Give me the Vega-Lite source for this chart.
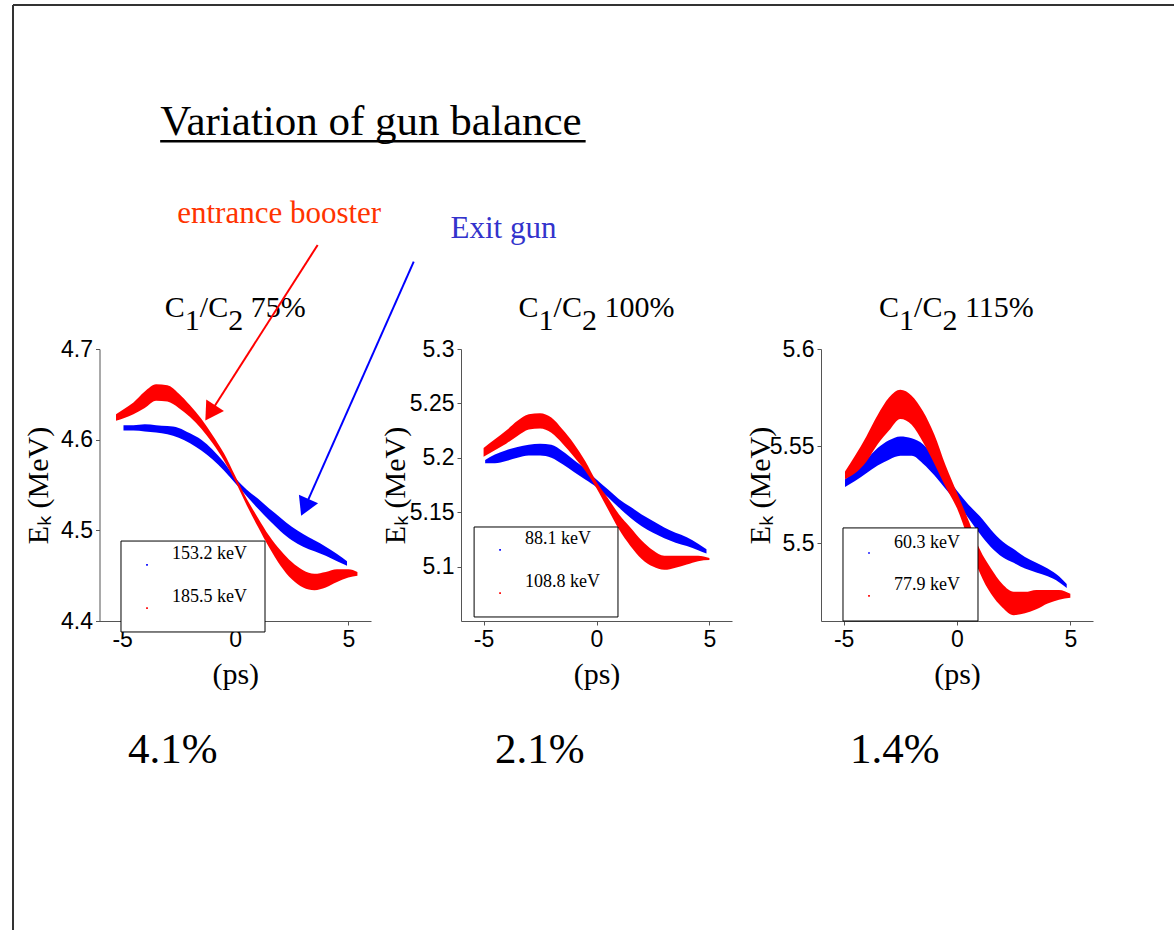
{
  "$schema": "https://vega.github.io/schema/vega-lite/v6.json",
  "width": 1174,
  "height": 930,
  "autosize": {"type": "none"},
  "padding": 0,
  "background": "white",
  "config": {
    "view": {"stroke": null},
    "axis": {"grid": false},
    "text": {"font": "Liberation Serif", "color": "black"}
  },
  "datasets": {
    "p1red": [
      {"t": -5.27, "e": 4.621, "e2": 4.628}, {"t": -4.9, "e": 4.624, "e2": 4.634}, {"t": -4.5, "e": 4.628, "e2": 4.641},
      {"t": -4.0, "e": 4.635, "e2": 4.653}, {"t": -3.5, "e": 4.643, "e2": 4.661}, {"t": -3.0, "e": 4.642, "e2": 4.66},
      {"t": -2.5, "e": 4.635, "e2": 4.651}, {"t": -2.0, "e": 4.625, "e2": 4.638}, {"t": -1.5, "e": 4.612, "e2": 4.623},
      {"t": -1.0, "e": 4.596, "e2": 4.605}, {"t": -0.5, "e": 4.577, "e2": 4.585}, {"t": 0, "e": 4.554, "e2": 4.56},
      {"t": 0.5, "e": 4.528, "e2": 4.535}, {"t": 1.0, "e": 4.504, "e2": 4.514}, {"t": 1.5, "e": 4.481, "e2": 4.494},
      {"t": 2.0, "e": 4.461, "e2": 4.478}, {"t": 2.5, "e": 4.446, "e2": 4.465}, {"t": 3.0, "e": 4.437, "e2": 4.456},
      {"t": 3.5, "e": 4.434, "e2": 4.452}, {"t": 4.0, "e": 4.437, "e2": 4.454}, {"t": 4.5, "e": 4.443, "e2": 4.457},
      {"t": 5.0, "e": 4.448, "e2": 4.457}, {"t": 5.4, "e": 4.45, "e2": 4.454}
    ],
    "p1blue": [
      {"t": -4.94, "e": 4.61, "e2": 4.616}, {"t": -4.5, "e": 4.61, "e2": 4.616}, {"t": -4.0, "e": 4.609, "e2": 4.617},
      {"t": -3.5, "e": 4.608, "e2": 4.616}, {"t": -3.0, "e": 4.606, "e2": 4.615}, {"t": -2.5, "e": 4.602, "e2": 4.613},
      {"t": -2.0, "e": 4.596, "e2": 4.607}, {"t": -1.5, "e": 4.588, "e2": 4.6}, {"t": -1.0, "e": 4.578, "e2": 4.589},
      {"t": -0.5, "e": 4.566, "e2": 4.575}, {"t": 0, "e": 4.552, "e2": 4.558}, {"t": 0.5, "e": 4.538, "e2": 4.545},
      {"t": 1.0, "e": 4.524, "e2": 4.535}, {"t": 1.5, "e": 4.511, "e2": 4.524}, {"t": 2.0, "e": 4.499, "e2": 4.514},
      {"t": 2.5, "e": 4.489, "e2": 4.504}, {"t": 3.0, "e": 4.482, "e2": 4.496}, {"t": 3.5, "e": 4.477, "e2": 4.489},
      {"t": 4.0, "e": 4.472, "e2": 4.482}, {"t": 4.5, "e": 4.466, "e2": 4.474}, {"t": 4.94, "e": 4.461, "e2": 4.466}
    ],
    "p2red": [
      {"t": -5.0, "e": 5.201, "e2": 5.209}, {"t": -4.5, "e": 5.207, "e2": 5.217}, {"t": -4.0, "e": 5.213, "e2": 5.225},
      {"t": -3.5, "e": 5.22, "e2": 5.234}, {"t": -3.0, "e": 5.226, "e2": 5.24}, {"t": -2.5, "e": 5.227, "e2": 5.241},
      {"t": -2.0, "e": 5.223, "e2": 5.237}, {"t": -1.5, "e": 5.213, "e2": 5.226}, {"t": -1.0, "e": 5.201, "e2": 5.213},
      {"t": -0.5, "e": 5.188, "e2": 5.197}, {"t": 0, "e": 5.172, "e2": 5.178}, {"t": 0.5, "e": 5.153, "e2": 5.163},
      {"t": 1.0, "e": 5.134, "e2": 5.148}, {"t": 1.5, "e": 5.119, "e2": 5.136}, {"t": 2.0, "e": 5.107, "e2": 5.124},
      {"t": 2.5, "e": 5.1, "e2": 5.115}, {"t": 3.0, "e": 5.097, "e2": 5.11}, {"t": 3.5, "e": 5.099, "e2": 5.11},
      {"t": 4.0, "e": 5.102, "e2": 5.11}, {"t": 4.5, "e": 5.105, "e2": 5.11}, {"t": 5.0, "e": 5.106, "e2": 5.108}
    ],
    "p2blue": [
      {"t": -4.93, "e": 5.195, "e2": 5.198}, {"t": -4.5, "e": 5.195, "e2": 5.203}, {"t": -4.0, "e": 5.197, "e2": 5.207},
      {"t": -3.5, "e": 5.2, "e2": 5.21}, {"t": -3.0, "e": 5.202, "e2": 5.212}, {"t": -2.5, "e": 5.202, "e2": 5.213},
      {"t": -2.0, "e": 5.2, "e2": 5.212}, {"t": -1.5, "e": 5.194, "e2": 5.206}, {"t": -1.0, "e": 5.187, "e2": 5.198},
      {"t": -0.5, "e": 5.18, "e2": 5.19}, {"t": 0, "e": 5.173, "e2": 5.18}, {"t": 0.5, "e": 5.164, "e2": 5.171},
      {"t": 1.0, "e": 5.154, "e2": 5.162}, {"t": 1.5, "e": 5.145, "e2": 5.155}, {"t": 2.0, "e": 5.137, "e2": 5.148},
      {"t": 2.5, "e": 5.131, "e2": 5.142}, {"t": 3.0, "e": 5.126, "e2": 5.136}, {"t": 3.5, "e": 5.122, "e2": 5.131},
      {"t": 4.0, "e": 5.119, "e2": 5.127}, {"t": 4.5, "e": 5.115, "e2": 5.121}, {"t": 4.87, "e": 5.112, "e2": 5.116}
    ],
    "p3red": [
      {"t": -4.94, "e": 5.533, "e2": 5.537}, {"t": -4.5, "e": 5.536, "e2": 5.545}, {"t": -4.0, "e": 5.542, "e2": 5.555},
      {"t": -3.5, "e": 5.551, "e2": 5.566}, {"t": -3.0, "e": 5.558, "e2": 5.575}, {"t": -2.5, "e": 5.564, "e2": 5.579},
      {"t": -2.0, "e": 5.561, "e2": 5.576}, {"t": -1.5, "e": 5.552, "e2": 5.568}, {"t": -1.0, "e": 5.541, "e2": 5.556},
      {"t": -0.5, "e": 5.529, "e2": 5.54}, {"t": 0, "e": 5.518, "e2": 5.526}, {"t": 0.5, "e": 5.502, "e2": 5.512},
      {"t": 1.0, "e": 5.485, "e2": 5.497}, {"t": 1.5, "e": 5.474, "e2": 5.487}, {"t": 2.0, "e": 5.467, "e2": 5.479},
      {"t": 2.5, "e": 5.463, "e2": 5.475}, {"t": 3.0, "e": 5.464, "e2": 5.475}, {"t": 3.5, "e": 5.466, "e2": 5.476},
      {"t": 4.0, "e": 5.469, "e2": 5.476}, {"t": 4.5, "e": 5.471, "e2": 5.476}, {"t": 5.0, "e": 5.472, "e2": 5.474}
    ],
    "p3blue": [
      {"t": -4.94, "e": 5.529, "e2": 5.533}, {"t": -4.5, "e": 5.532, "e2": 5.537}, {"t": -4.0, "e": 5.536, "e2": 5.543},
      {"t": -3.5, "e": 5.54, "e2": 5.549}, {"t": -3.0, "e": 5.543, "e2": 5.553}, {"t": -2.5, "e": 5.545, "e2": 5.555},
      {"t": -2.0, "e": 5.545, "e2": 5.554}, {"t": -1.5, "e": 5.541, "e2": 5.551}, {"t": -1.0, "e": 5.535, "e2": 5.544},
      {"t": -0.5, "e": 5.528, "e2": 5.535}, {"t": 0, "e": 5.521, "e2": 5.527}, {"t": 0.5, "e": 5.513, "e2": 5.52},
      {"t": 1.0, "e": 5.505, "e2": 5.514}, {"t": 1.5, "e": 5.498, "e2": 5.507}, {"t": 2.0, "e": 5.493, "e2": 5.501},
      {"t": 2.5, "e": 5.49, "e2": 5.497}, {"t": 3.0, "e": 5.487, "e2": 5.493}, {"t": 3.5, "e": 5.485, "e2": 5.49},
      {"t": 4.0, "e": 5.483, "e2": 5.487}, {"t": 4.5, "e": 5.48, "e2": 5.483}, {"t": 4.84, "e": 5.477, "e2": 5.479}
    ],
    "p1box": [{"t": -5.05, "t2": 1.315, "e": 4.3879, "e2": 4.4882}],
    "p1leg": [{"t": -2.796, "e": 4.4739, "label": "153.2 keV"}, {"t": -2.796, "e": 4.4265, "label": "185.5 keV"}],
    "p1dots": [{"t": -3.9, "e": 4.4618, "series": "blue"}, {"t": -3.9, "e": 4.4143, "series": "red"}],
    "p1title": [{"t": 0, "e": 4.7353, "ratio": "75%"}],
    "p1pct": [{"t": -4.735, "e": 4.2434, "label": "4.1%"}],
    "p2box": [{"t": -5.42, "t2": 0.951, "e": 5.0537, "e2": 5.1364}],
    "p2leg": [{"t": -3.168, "e": 5.1254, "label": "88.1 keV"}, {"t": -3.168, "e": 5.0858, "label": "108.8 keV"}],
    "p2dots": [{"t": -4.27, "e": 5.1153, "series": "blue"}, {"t": -4.27, "e": 5.0757, "series": "red"}],
    "p2title": [{"t": 0, "e": 5.3294, "ratio": "100%"}],
    "p2pct": [{"t": -4.491, "e": 4.9195, "label": "2.1%"}],
    "p3box": [{"t": -5.03, "t2": 0.926, "e": 5.46, "e2": 5.5079}],
    "p3leg": [{"t": -2.779, "e": 5.5001, "label": "60.3 keV"}, {"t": -2.779, "e": 5.4785, "label": "77.9 keV"}],
    "p3dots": [{"t": -3.882, "e": 5.495, "series": "blue"}, {"t": -3.882, "e": 5.4729, "series": "red"}],
    "p3title": [{"t": 0, "e": 5.6165, "ratio": "115%"}],
    "p3pct": [{"t": -4.72, "e": 5.3869, "label": "1.4%"}],
    "notes": [
      {"t": -2.566, "e": 4.8393, "label": "entrance booster", "who": "red"},
      {"t": 9.513, "e": 4.8221, "label": "Exit gun", "who": "blue"}
    ],
    "arrows": [
      {"who": "red", "t": 3.642, "e": 4.8147, "t2": -1.106, "e2": 4.6295},
      {"who": "blue", "t": 7.889, "e": 4.7963, "t2": 3.075, "e2": 4.5253}
    ],
    "maintitle": [{"t": -3.319, "e": 4.936, "label": "Variation of gun balance"}],
    "underline": [{"t": -3.319, "t2": 15.487, "e": 4.929, "e2": 4.929}],
    "border": [
      {"t": -9.823, "t2": -9.823, "e": 5.0794, "e2": 3.9},
      {"t": -9.823, "t2": 45, "e": 5.0794, "e2": 5.0794}
    ]
  },
  "layer": [
    {
      "encoding": {
        "x": {"field": "t", "type": "quantitative",
          "scale": {"domain": [-6, 6], "range": [99.5, 371], "nice": false, "zero": false},
          "axis": {"orient": "bottom", "offset": -309, "values": [-5, 0, 5], "labelExpr": "'' + datum.value",
            "title": "(ps)", "titleFont": "Liberation Serif", "titleFontSize": 30, "titleFontWeight": "normal", "titleColor": "black",
            "titleY": 62, "titleBaseline": "alphabetic",
            "labelFont": "Liberation Sans", "labelFontSize": 23, "labelColor": "black", "labelPadding": 3, "labelFlush": false, "labelOverlap": false,
            "tickSize": 4, "domainColor": "#555", "tickColor": "#555"}},
        "y": {"field": "e", "type": "quantitative", "stack": null,
          "scale": {"domain": [4.4, 4.7], "range": [621, 349], "nice": false, "zero": false},
          "axis": {"orient": "left", "offset": -99.5, "values": [4.4, 4.5, 4.6, 4.7], "labelExpr": "'' + datum.value",
            "title": "Eₖ (MeV)", "titleFont": "Liberation Serif", "titleFontSize": 30, "titleFontWeight": "normal", "titleColor": "black",
            "titleX": -61, "titleAngle": 270, "titleAlign": "center", "titleBaseline": "middle",
            "labelFont": "Liberation Sans", "labelFontSize": 23, "labelColor": "black", "labelPadding": 3, "labelOverlap": false,
            "tickSize": 4, "domainColor": "#555", "tickColor": "#555"}}
      },
      "layer": [
        {"data": {"name": "border"}, "mark": {"type": "rule", "color": "#333", "strokeWidth": 2}, "encoding": {"x2": {"field": "t2"}, "y2": {"field": "e2"}}},
        {"data": {"name": "p1blue"}, "mark": {"type": "area", "color": "#0000ff", "interpolate": "monotone"}, "encoding": {"y2": {"field": "e2"}}},
        {"data": {"name": "p1red"}, "mark": {"type": "area", "color": "#ff0000", "interpolate": "monotone"}, "encoding": {"y2": {"field": "e2"}}},
        {"data": {"name": "p1box"}, "mark": {"type": "rect", "fill": "white", "stroke": "black", "strokeWidth": 1}, "encoding": {"x2": {"field": "t2"}, "y2": {"field": "e2"}}},
        {"data": {"name": "p1leg"}, "mark": {"type": "text", "fontSize": 18, "align": "left", "baseline": "middle"}, "encoding": {"text": {"field": "label"}}},
        {"data": {"name": "p1dots"}, "transform": [{"filter": "datum.series == 'blue'"}], "mark": {"type": "point", "shape": "square", "filled": true, "size": 3, "color": "#0000ff", "opacity": 1}},
        {"data": {"name": "p1dots"}, "transform": [{"filter": "datum.series == 'red'"}], "mark": {"type": "point", "shape": "square", "filled": true, "size": 3, "color": "#ff0000", "opacity": 1}},
        {"data": {"name": "p1title"}, "mark": {"type": "text", "fontSize": 30, "align": "left", "baseline": "alphabetic", "dx": -70.4}, "encoding": {"text": {"value": "C"}}},
        {"data": {"name": "p1title"}, "mark": {"type": "text", "fontSize": 30, "align": "left", "baseline": "alphabetic", "dx": -50.4, "dy": 13}, "encoding": {"text": {"value": "1"}}},
        {"data": {"name": "p1title"}, "mark": {"type": "text", "fontSize": 30, "align": "left", "baseline": "alphabetic", "dx": -35.4}, "encoding": {"text": {"value": "/C"}}},
        {"data": {"name": "p1title"}, "mark": {"type": "text", "fontSize": 30, "align": "left", "baseline": "alphabetic", "dx": -7.1, "dy": 13}, "encoding": {"text": {"value": "2"}}},
        {"data": {"name": "p1title"}, "mark": {"type": "text", "fontSize": 30, "align": "left", "baseline": "alphabetic", "dx": 15.4}, "encoding": {"text": {"field": "ratio"}}},
        {"data": {"name": "p1pct"}, "mark": {"type": "text", "fontSize": 43, "align": "left", "baseline": "alphabetic"}, "encoding": {"text": {"field": "label"}}},
        {"data": {"name": "maintitle"}, "mark": {"type": "text", "fontSize": 43, "align": "left", "baseline": "alphabetic"}, "encoding": {"text": {"field": "label"}}},
        {"data": {"name": "underline"}, "mark": {"type": "rule", "color": "black", "strokeWidth": 2.5}, "encoding": {"x2": {"field": "t2"}, "y2": {"field": "e2"}}},
        {"data": {"name": "notes"}, "transform": [{"filter": "datum.who == 'red'"}], "mark": {"type": "text", "fontSize": 31, "align": "left", "baseline": "alphabetic", "color": "#ff3300"}, "encoding": {"text": {"field": "label"}}},
        {"data": {"name": "notes"}, "transform": [{"filter": "datum.who == 'blue'"}], "mark": {"type": "text", "fontSize": 31, "align": "left", "baseline": "alphabetic", "color": "#3333cc"}, "encoding": {"text": {"field": "label"}}},
        {"data": {"name": "arrows"}, "transform": [{"filter": "datum.who == 'red'"}], "mark": {"type": "rule", "color": "#ff0000", "strokeWidth": 2}, "encoding": {"x2": {"field": "t2"}, "y2": {"field": "e2"}}},
        {"data": {"name": "arrows"}, "transform": [{"filter": "datum.who == 'blue'"}], "mark": {"type": "rule", "color": "#0000ff", "strokeWidth": 2}, "encoding": {"x2": {"field": "t2"}, "y2": {"field": "e2"}}},
        {"data": {"name": "arrows"}, "transform": [{"filter": "datum.who == 'red'"}], "mark": {"type": "point", "shape": "triangle-up", "filled": true, "size": 440, "angle": 212.5, "color": "#ff0000", "opacity": 1}, "encoding": {"x": {"field": "t2"}, "y": {"field": "e2"}}},
        {"data": {"name": "arrows"}, "transform": [{"filter": "datum.who == 'blue'"}], "mark": {"type": "point", "shape": "triangle-up", "filled": true, "size": 440, "angle": 203.9, "color": "#0000ff", "opacity": 1}, "encoding": {"x": {"field": "t2"}, "y": {"field": "e2"}}}
      ]
    },
    {
      "encoding": {
        "x": {"field": "t", "type": "quantitative",
          "scale": {"domain": [-6, 6], "range": [461, 732], "nice": false, "zero": false},
          "axis": {"orient": "bottom", "offset": -309, "values": [-5, 0, 5], "labelExpr": "'' + datum.value",
            "title": "(ps)", "titleFont": "Liberation Serif", "titleFontSize": 30, "titleFontWeight": "normal", "titleColor": "black",
            "titleY": 62, "titleBaseline": "alphabetic",
            "labelFont": "Liberation Sans", "labelFontSize": 23, "labelColor": "black", "labelPadding": 3, "labelFlush": false, "labelOverlap": false,
            "tickSize": 4, "domainColor": "#555", "tickColor": "#555"}},
        "y": {"field": "e", "type": "quantitative", "stack": null,
          "scale": {"domain": [5.05, 5.3], "range": [621, 349], "nice": false, "zero": false},
          "axis": {"orient": "left", "offset": -461, "values": [5.1, 5.15, 5.2, 5.25, 5.3], "labelExpr": "'' + datum.value",
            "title": "Eₖ (MeV)", "titleFont": "Liberation Serif", "titleFontSize": 30, "titleFontWeight": "normal", "titleColor": "black",
            "titleX": -66, "titleAngle": 270, "titleAlign": "center", "titleBaseline": "middle",
            "labelFont": "Liberation Sans", "labelFontSize": 23, "labelColor": "black", "labelPadding": 3, "labelOverlap": false,
            "tickSize": 4, "domainColor": "#555", "tickColor": "#555"}}
      },
      "layer": [
        {"data": {"name": "p2blue"}, "mark": {"type": "area", "color": "#0000ff", "interpolate": "monotone"}, "encoding": {"y2": {"field": "e2"}}},
        {"data": {"name": "p2red"}, "mark": {"type": "area", "color": "#ff0000", "interpolate": "monotone"}, "encoding": {"y2": {"field": "e2"}}},
        {"data": {"name": "p2box"}, "mark": {"type": "rect", "fill": "white", "stroke": "black", "strokeWidth": 1}, "encoding": {"x2": {"field": "t2"}, "y2": {"field": "e2"}}},
        {"data": {"name": "p2leg"}, "mark": {"type": "text", "fontSize": 18, "align": "left", "baseline": "middle"}, "encoding": {"text": {"field": "label"}}},
        {"data": {"name": "p2dots"}, "transform": [{"filter": "datum.series == 'blue'"}], "mark": {"type": "point", "shape": "square", "filled": true, "size": 3, "color": "#0000ff", "opacity": 1}},
        {"data": {"name": "p2dots"}, "transform": [{"filter": "datum.series == 'red'"}], "mark": {"type": "point", "shape": "square", "filled": true, "size": 3, "color": "#ff0000", "opacity": 1}},
        {"data": {"name": "p2title"}, "mark": {"type": "text", "fontSize": 30, "align": "left", "baseline": "alphabetic", "dx": -77.9}, "encoding": {"text": {"value": "C"}}},
        {"data": {"name": "p2title"}, "mark": {"type": "text", "fontSize": 30, "align": "left", "baseline": "alphabetic", "dx": -57.9, "dy": 13}, "encoding": {"text": {"value": "1"}}},
        {"data": {"name": "p2title"}, "mark": {"type": "text", "fontSize": 30, "align": "left", "baseline": "alphabetic", "dx": -42.9}, "encoding": {"text": {"value": "/C"}}},
        {"data": {"name": "p2title"}, "mark": {"type": "text", "fontSize": 30, "align": "left", "baseline": "alphabetic", "dx": -14.6, "dy": 13}, "encoding": {"text": {"value": "2"}}},
        {"data": {"name": "p2title"}, "mark": {"type": "text", "fontSize": 30, "align": "left", "baseline": "alphabetic", "dx": 7.9}, "encoding": {"text": {"field": "ratio"}}},
        {"data": {"name": "p2pct"}, "mark": {"type": "text", "fontSize": 43, "align": "left", "baseline": "alphabetic"}, "encoding": {"text": {"field": "label"}}}
      ]
    },
    {
      "encoding": {
        "x": {"field": "t", "type": "quantitative",
          "scale": {"domain": [-6, 6], "range": [821, 1093], "nice": false, "zero": false},
          "axis": {"orient": "bottom", "offset": -309, "values": [-5, 0, 5], "labelExpr": "'' + datum.value",
            "title": "(ps)", "titleFont": "Liberation Serif", "titleFontSize": 30, "titleFontWeight": "normal", "titleColor": "black",
            "titleY": 62, "titleBaseline": "alphabetic",
            "labelFont": "Liberation Sans", "labelFontSize": 23, "labelColor": "black", "labelPadding": 3, "labelFlush": false, "labelOverlap": false,
            "tickSize": 4, "domainColor": "#555", "tickColor": "#555"}},
        "y": {"field": "e", "type": "quantitative", "stack": null,
          "scale": {"domain": [5.46, 5.6], "range": [621, 349], "nice": false, "zero": false},
          "axis": {"orient": "left", "offset": -821, "values": [5.5, 5.55, 5.6], "labelExpr": "'' + datum.value",
            "title": "Eₖ (MeV)", "titleFont": "Liberation Serif", "titleFontSize": 30, "titleFontWeight": "normal", "titleColor": "black",
            "titleX": -61, "titleAngle": 270, "titleAlign": "center", "titleBaseline": "middle",
            "labelFont": "Liberation Sans", "labelFontSize": 23, "labelColor": "black", "labelPadding": 3, "labelOverlap": false,
            "tickSize": 4, "domainColor": "#555", "tickColor": "#555"}}
      },
      "layer": [
        {"data": {"name": "p3blue"}, "mark": {"type": "area", "color": "#0000ff", "interpolate": "monotone"}, "encoding": {"y2": {"field": "e2"}}},
        {"data": {"name": "p3red"}, "mark": {"type": "area", "color": "#ff0000", "interpolate": "monotone"}, "encoding": {"y2": {"field": "e2"}}},
        {"data": {"name": "p3box"}, "mark": {"type": "rect", "fill": "white", "stroke": "black", "strokeWidth": 1}, "encoding": {"x2": {"field": "t2"}, "y2": {"field": "e2"}}},
        {"data": {"name": "p3leg"}, "mark": {"type": "text", "fontSize": 18, "align": "left", "baseline": "middle"}, "encoding": {"text": {"field": "label"}}},
        {"data": {"name": "p3dots"}, "transform": [{"filter": "datum.series == 'blue'"}], "mark": {"type": "point", "shape": "square", "filled": true, "size": 3, "color": "#0000ff", "opacity": 1}},
        {"data": {"name": "p3dots"}, "transform": [{"filter": "datum.series == 'red'"}], "mark": {"type": "point", "shape": "square", "filled": true, "size": 3, "color": "#ff0000", "opacity": 1}},
        {"data": {"name": "p3title"}, "mark": {"type": "text", "fontSize": 30, "align": "left", "baseline": "alphabetic", "dx": -77.9}, "encoding": {"text": {"value": "C"}}},
        {"data": {"name": "p3title"}, "mark": {"type": "text", "fontSize": 30, "align": "left", "baseline": "alphabetic", "dx": -57.9, "dy": 13}, "encoding": {"text": {"value": "1"}}},
        {"data": {"name": "p3title"}, "mark": {"type": "text", "fontSize": 30, "align": "left", "baseline": "alphabetic", "dx": -42.9}, "encoding": {"text": {"value": "/C"}}},
        {"data": {"name": "p3title"}, "mark": {"type": "text", "fontSize": 30, "align": "left", "baseline": "alphabetic", "dx": -14.6, "dy": 13}, "encoding": {"text": {"value": "2"}}},
        {"data": {"name": "p3title"}, "mark": {"type": "text", "fontSize": 30, "align": "left", "baseline": "alphabetic", "dx": 7.9}, "encoding": {"text": {"field": "ratio"}}},
        {"data": {"name": "p3pct"}, "mark": {"type": "text", "fontSize": 43, "align": "left", "baseline": "alphabetic"}, "encoding": {"text": {"field": "label"}}}
      ]
    }
  ],
  "resolve": {"scale": {"x": "independent", "y": "independent"}}
}
